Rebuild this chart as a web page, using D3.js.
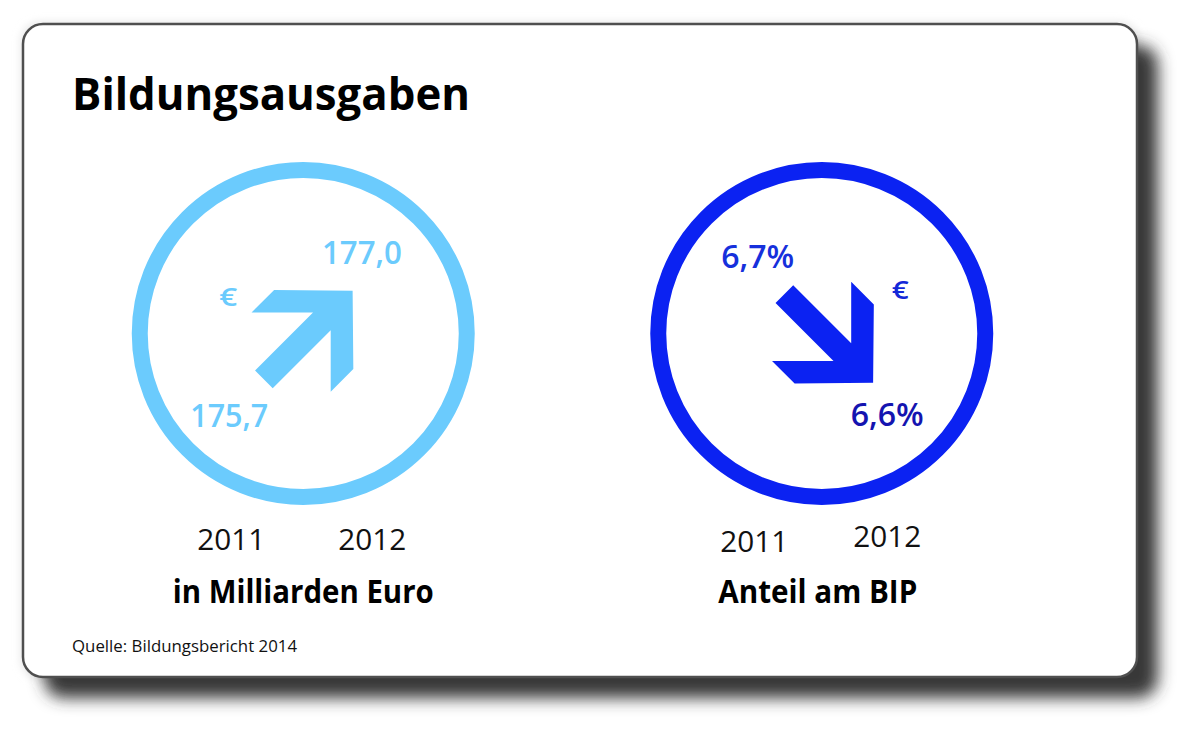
<!DOCTYPE html>
<html><head><meta charset="utf-8">
<script src="https://cdn.jsdelivr.net/npm/d3@7"></script>
<style>html,body{margin:0;padding:0;background:#fff;} svg{display:block;}</style>
</head><body>
<svg id="chart" width="1200" height="740"></svg>
<script>
// ---- data ----
const chartTitle = "Bildungsausgaben";
const sourceNote = "Quelle: Bildungsbericht 2014";
const years = ["2011", "2012"];
const panelTitles = ["in Milliarden Euro", "Anteil am BIP"];
const euroValues = [175.7, 177.0];   // Mrd. Euro
const shareValues = [6.7, 6.6];      // % of BIP
const unitSymbol = "€";

// ---- setup ----
const svg = d3.select("#chart");
const W = 1200, H = 740;
const de = d3.formatLocale({decimal: ",", thousands: ".", grouping: [3], currency: ["", "€"]});
const f1 = de.format(".1f");

const FONT = "'Open Sans', 'Noto Sans', sans-serif";

function fit(sel, w) {
  sel.attr("textLength", w).attr("lengthAdjust", "spacingAndGlyphs");
  return sel;
}

// shadow filter
const defs = svg.append("defs");
const flt = defs.append("filter").attr("id", "blur").attr("x", "-10%").attr("y", "-10%").attr("width", "120%").attr("height", "120%");
flt.append("feGaussianBlur").attr("stdDeviation", 8);
const glow = defs.append("filter").attr("id", "glow").attr("x", "-10%").attr("y", "-10%").attr("width", "120%").attr("height", "120%");
glow.append("feGaussianBlur").attr("stdDeviation", 4);

// card
const card = {x: 23, y: 24, w: 1114, h: 653, r: 20};
svg.append("rect").attr("x", card.x - 2).attr("y", card.y - 2).attr("width", card.w + 4).attr("height", card.h + 4)
  .attr("rx", card.r).attr("fill", "#e6e6e6").attr("filter", "url(#glow)");
svg.append("rect").attr("x", card.x + 21).attr("y", card.y + 21).attr("width", card.w).attr("height", card.h)
  .attr("rx", card.r).attr("fill", "#383838").attr("filter", "url(#blur)");
svg.append("rect").attr("x", card.x).attr("y", card.y).attr("width", card.w).attr("height", card.h)
  .attr("rx", card.r).attr("fill", "#fff").attr("stroke", "#4f4f4f").attr("stroke-width", 2.5);

// title
fit(svg.append("text").attr("x", 72).attr("y", 110)
  .attr("font-family", FONT).attr("font-weight", 700).attr("font-size", 45).attr("fill", "#000")
  .text(chartTitle), 398);

// source
fit(svg.append("text").attr("x", 72).attr("y", 652)
  .attr("font-family", FONT).attr("font-weight", 400).attr("font-size", 17).attr("fill", "#111")
  .text(sourceNote), 225);

// panels
const xPanel = d3.scaleBand().domain(panelTitles).range([44, 1081]).padding(0);
const cy = 333.5;
const ringR = 163.5, ringW = 16;

const panels = [
  {title: panelTitles[0], values: euroValues, fmt: v => f1(v), color: "#6bcbfd",
   startColor: "#6bcbfd", endColor: "#6bcbfd", unitColor: "#6bcbfd",
   arrowOff: [5, 1.5],
   startPos: [-113, 93], endPos: [18.7, -70], unitPos: [-84, -27.5], unitW: 18,
   startW: 78, endW: 80,
   yearPos: [[-72, 216.5], [69, 216.5]], titleDx: 0, titleW: 261},
  {title: panelTitles[1], values: shareValues, fmt: v => f1(v) + "%", color: "#0b22f2",
   startColor: "#1630dc", endColor: "#1414b0", unitColor: "#1428d8",
   arrowOff: [7, 5],
   startPos: [-100.5, -66], endPos: [29, 92.5], unitPos: [70, -35], unitW: 17,
   startW: 73, endW: 73,
   yearPos: [[-67.5, 218.5], [65.5, 213.5]], titleDx: -4, titleW: 199}
];

// arrow geometry (local frame, pointing along +u, centred at origin)
const arrowLen = 125.5, headBack = 55, wingHalf = 56, wingThick = 31, shaftHalf = 12.5;
function arrowPoints() {
  const t = arrowLen / 2;           // tip position
  const tail = -arrowLen / 2;
  const inner = v => t - Math.abs(v) - wingThick;
  return [
    [t, 0],
    [t - headBack, -wingHalf],
    [inner(wingHalf), -wingHalf],
    [inner(shaftHalf), -shaftHalf],
    [tail, -shaftHalf],
    [tail, shaftHalf],
    [inner(shaftHalf), shaftHalf],
    [inner(wingHalf), wingHalf],
    [t - headBack, wingHalf],
  ];
}
const arrowLine = d3.line().curve(d3.curveLinearClosed);

panels.forEach(p => {
  const cx = xPanel(p.title) + xPanel.bandwidth() / 2;
  const g = svg.append("g").attr("transform", `translate(${cx},${cy})`);

  g.append("circle").attr("r", ringR).attr("fill", "none")
    .attr("stroke", p.color).attr("stroke-width", ringW);

  const change = p.values[1] - p.values[0];
  const angle = change >= 0 ? -45 : 45;
  g.append("path")
    .attr("transform", `translate(${p.arrowOff[0]},${p.arrowOff[1]}) rotate(${angle})`)
    .attr("d", arrowLine(arrowPoints()))
    .attr("fill", p.color);

  fit(g.append("text").attr("x", p.startPos[0]).attr("y", p.startPos[1])
    .attr("font-family", FONT).attr("font-weight", 600).attr("font-size", 32).attr("fill", p.startColor)
    .text(p.fmt(p.values[0])), p.startW);
  fit(g.append("text").attr("x", p.endPos[0]).attr("y", p.endPos[1])
    .attr("font-family", FONT).attr("font-weight", 600).attr("font-size", 32).attr("fill", p.endColor)
    .text(p.fmt(p.values[1])), p.endW);
  fit(g.append("text").attr("x", p.unitPos[0]).attr("y", p.unitPos[1])
    .attr("font-family", FONT).attr("font-weight", 600).attr("font-size", 26).attr("fill", p.unitColor)
    .text(unitSymbol), p.unitW);

  years.forEach((y, i) => {
    fit(g.append("text").attr("x", p.yearPos[i][0]).attr("y", p.yearPos[i][1])
      .attr("text-anchor", "middle")
      .attr("font-family", FONT).attr("font-weight", 400).attr("font-size", 30).attr("fill", "#111")
      .text(y), 68);
  });

  fit(g.append("text").attr("x", p.titleDx).attr("y", 269.5)
    .attr("text-anchor", "middle")
    .attr("font-family", FONT).attr("font-weight", 700).attr("font-size", 32).attr("fill", "#000")
    .text(p.title), p.titleW);
});
</script>
</body></html>
